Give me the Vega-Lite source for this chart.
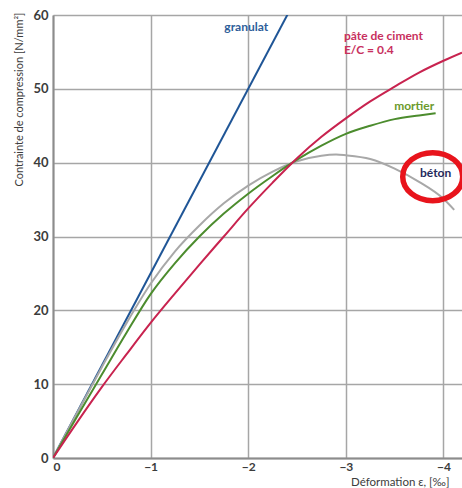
{
  "$schema": "https://vega.github.io/schema/vega-lite/v6.json",
  "autosize": {"type": "none"},
  "padding": {"left": 53, "top": 15, "right": 0, "bottom": 30},
  "width": 409,
  "height": 443,
  "background": "white",
  "config": {
    "view": {"stroke": null},
    "font": "Lato",
    "axis": {
      "grid": true,
      "gridColor": "#a6a6a6",
      "gridWidth": 1.5,
      "domainColor": "#8c8c8c",
      "domainWidth": 2,
      "ticks": false,
      "labelFont": "Lato",
      "titleFont": "Lato",
      "labelColor": "#3c3c3c",
      "titleColor": "#3c3c3c"
    }
  },
  "datasets": {
    "curves": [
      {"serie": "granulat", "eps": 0, "sigma": 0},
      {"serie": "granulat", "eps": -2.42, "sigma": 60.5},

      {"serie": "béton", "eps": 0, "sigma": 0},
      {"serie": "béton", "eps": -0.25, "sigma": 6.2},
      {"serie": "béton", "eps": -0.5, "sigma": 12.3},
      {"serie": "béton", "eps": -0.75, "sigma": 18.2},
      {"serie": "béton", "eps": -1.0, "sigma": 23.6},
      {"serie": "béton", "eps": -1.25, "sigma": 28.0},
      {"serie": "béton", "eps": -1.5, "sigma": 31.5},
      {"serie": "béton", "eps": -1.75, "sigma": 34.5},
      {"serie": "béton", "eps": -2.0, "sigma": 36.9},
      {"serie": "béton", "eps": -2.25, "sigma": 38.8},
      {"serie": "béton", "eps": -2.5, "sigma": 40.2},
      {"serie": "béton", "eps": -2.75, "sigma": 40.95},
      {"serie": "béton", "eps": -2.9, "sigma": 41.1},
      {"serie": "béton", "eps": -3.0, "sigma": 41.0},
      {"serie": "béton", "eps": -3.25, "sigma": 40.5},
      {"serie": "béton", "eps": -3.5, "sigma": 39.2},
      {"serie": "béton", "eps": -3.75, "sigma": 37.4},
      {"serie": "béton", "eps": -4.0, "sigma": 35.1},
      {"serie": "béton", "eps": -4.11, "sigma": 33.6},

      {"serie": "mortier", "eps": 0, "sigma": 0},
      {"serie": "mortier", "eps": -0.25, "sigma": 5.7},
      {"serie": "mortier", "eps": -0.5, "sigma": 11.3},
      {"serie": "mortier", "eps": -0.75, "sigma": 16.9},
      {"serie": "mortier", "eps": -1.0, "sigma": 22.2},
      {"serie": "mortier", "eps": -1.25, "sigma": 26.4},
      {"serie": "mortier", "eps": -1.5, "sigma": 30.0},
      {"serie": "mortier", "eps": -1.75, "sigma": 33.1},
      {"serie": "mortier", "eps": -2.0, "sigma": 35.8},
      {"serie": "mortier", "eps": -2.25, "sigma": 38.2},
      {"serie": "mortier", "eps": -2.5, "sigma": 40.4},
      {"serie": "mortier", "eps": -2.75, "sigma": 42.3},
      {"serie": "mortier", "eps": -3.0, "sigma": 43.9},
      {"serie": "mortier", "eps": -3.25, "sigma": 45.0},
      {"serie": "mortier", "eps": -3.5, "sigma": 45.9},
      {"serie": "mortier", "eps": -3.75, "sigma": 46.4},
      {"serie": "mortier", "eps": -3.92, "sigma": 46.7},

      {"serie": "pâte de ciment", "eps": 0, "sigma": 0},
      {"serie": "pâte de ciment", "eps": -0.25, "sigma": 4.9},
      {"serie": "pâte de ciment", "eps": -0.5, "sigma": 9.6},
      {"serie": "pâte de ciment", "eps": -0.75, "sigma": 14.0},
      {"serie": "pâte de ciment", "eps": -1.0, "sigma": 18.3},
      {"serie": "pâte de ciment", "eps": -1.25, "sigma": 22.3},
      {"serie": "pâte de ciment", "eps": -1.5, "sigma": 26.2},
      {"serie": "pâte de ciment", "eps": -1.75, "sigma": 30.0},
      {"serie": "pâte de ciment", "eps": -2.0, "sigma": 33.8},
      {"serie": "pâte de ciment", "eps": -2.25, "sigma": 37.3},
      {"serie": "pâte de ciment", "eps": -2.5, "sigma": 40.6},
      {"serie": "pâte de ciment", "eps": -2.75, "sigma": 43.5},
      {"serie": "pâte de ciment", "eps": -3.0, "sigma": 46.0},
      {"serie": "pâte de ciment", "eps": -3.25, "sigma": 48.3},
      {"serie": "pâte de ciment", "eps": -3.5, "sigma": 50.3},
      {"serie": "pâte de ciment", "eps": -3.75, "sigma": 52.2},
      {"serie": "pâte de ciment", "eps": -4.0, "sigma": 53.8},
      {"serie": "pâte de ciment", "eps": -4.19, "sigma": 54.9}
    ],
    "labels": [
      {"label": "granulat", "eps": -1.98, "sigma": 58.4},
      {"label": "pâte de ciment\nE/C = 0.4", "eps": -2.98, "sigma": 57.1},
      {"label": "mortier", "eps": -3.7, "sigma": 47.7},
      {"label": "béton", "eps": -3.92, "sigma": 38.6}
    ],
    "marks": [
      {"eps": -3.89, "sigma": 38.1}
    ]
  },
  "encoding": {
    "x": {
      "field": "eps", "type": "quantitative",
      "scale": {"domain": [-4.19, 0], "reverse": true, "nice": false, "zero": false},
      "axis": {
        "values": [0, -1, -2, -3, -4],
        "format": "d",
        "labelFontSize": 12,
        "labelFontWeight": "bold",
        "labelPadding": 3,
        "title": "Déformation ε, [‰]",
        "titleFontSize": 11.5,
        "titleFontWeight": "normal",
        "titleX": 396,
        "titleY": 18,
        "titleAlign": "right",
        "titleBaseline": "top",
        "titleAnchor": null
      }
    },
    "y": {
      "field": "sigma", "type": "quantitative",
      "scale": {"domain": [0, 60], "nice": false},
      "axis": {
        "values": [0, 10, 20, 30, 40, 50, 60],
        "labelFontSize": 13,
        "labelFontWeight": "bold",
        "labelPadding": 5,
        "title": "Contrainte de compression [N/mm²]",
        "titleFontSize": 11,
        "titleFontWeight": "normal",
        "titleAngle": -90,
        "titleX": -34,
        "titleY": -3,
        "titleAlign": "right",
        "titleBaseline": "middle"
      }
    }
  },
  "layer": [
    {
      "data": {"name": "curves"},
      "mark": {"type": "line", "strokeWidth": 2, "clip": true, "interpolate": "monotone"},
      "encoding": {
        "color": {
          "field": "serie", "type": "nominal",
          "scale": {
            "domain": ["granulat", "béton", "mortier", "pâte de ciment"],
            "range": ["#1f5596", "#a8a8a8", "#4c8c2e", "#c8234f"]
          },
          "legend": null
        }
      }
    },
    {
      "data": {"name": "labels"},
      "transform": [{"filter": "datum.label == 'granulat'"}],
      "mark": {"type": "text", "align": "center", "baseline": "middle", "fontSize": 12, "fontWeight": "bold", "color": "#2e5e9a"},
      "encoding": {"text": {"field": "label"}}
    },
    {
      "data": {"name": "labels"},
      "transform": [{"filter": "indexof(datum.label, 'pâte') == 0"}],
      "mark": {"type": "text", "align": "left", "baseline": "middle", "fontSize": 12, "fontWeight": "bold", "color": "#c8305e", "lineBreak": "\n", "lineHeight": 13.5},
      "encoding": {"text": {"field": "label"}}
    },
    {
      "data": {"name": "labels"},
      "transform": [{"filter": "datum.label == 'mortier'"}],
      "mark": {"type": "text", "align": "center", "baseline": "middle", "fontSize": 12, "fontWeight": "bold", "color": "#6b9a2c"},
      "encoding": {"text": {"field": "label"}}
    },
    {
      "data": {"name": "marks"},
      "mark": {
        "type": "point",
        "shape": "M -1 0 C -1 -0.442 -0.552 -0.8 0 -0.8 C 0.552 -0.8 1 -0.442 1 0 C 1 0.442 0.552 0.8 0 0.8 C -0.552 0.8 -1 0.442 -1 0 Z",
        "size": 3600,
        "filled": false,
        "stroke": "#e8141c",
        "strokeWidth": 5.5,
        "opacity": 1
      }
    },
    {
      "data": {"name": "labels"},
      "transform": [{"filter": "datum.label == 'béton'"}],
      "mark": {"type": "text", "align": "center", "baseline": "middle", "fontSize": 12, "fontWeight": "bold", "color": "#1f2a5c"},
      "encoding": {"text": {"field": "label"}}
    }
  ]
}
